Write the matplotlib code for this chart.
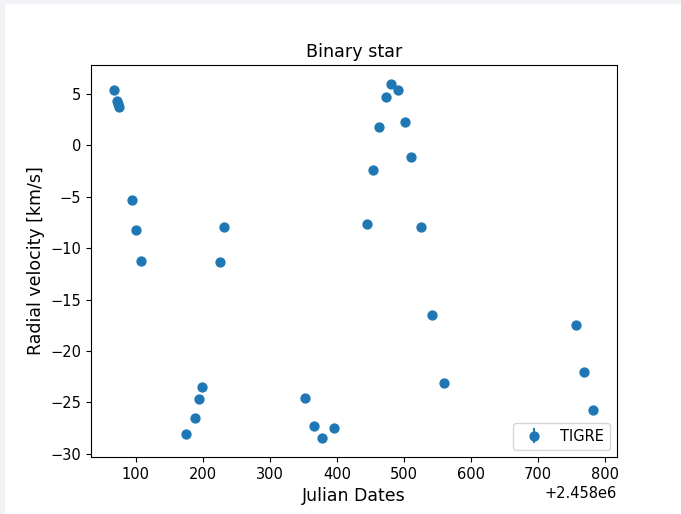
import matplotlib
matplotlib.use("Agg")
import matplotlib.pyplot as plt
import matplotlib.patches as mpatches
import numpy as np

# Julian dates minus 2.458e6, radial velocities in km/s
jd = [67, 71.6, 73, 74.6, 94, 100, 107.5,
      174.6, 188, 194, 198.5, 225, 231,
      352, 366, 377.6, 395.5,
      444.8, 453.7, 462.7, 473, 480.6, 491, 501.5, 510, 525, 541.8, 559.7,
      756.7, 768.7, 782]
rv = [5.34, 4.3, 4.0, 3.7, -5.34, -8.25, -11.26,
      -28.06, -26.5, -24.66, -23.5, -11.36, -7.96,
      -24.56, -27.28, -28.45, -27.48,
      -7.67, -2.43, 1.75, 4.66, 5.92, 5.34, 2.23, -1.17, -7.96, -16.5, -23.1,
      -17.48, -22.04, -25.7]
rv_err = [0.1] * len(rv)

offset = 2.458e6

fig = plt.figure(figsize=(6.81, 5.14), dpi=100)
fig.patch.set_facecolor("#f2f3f7")
# white canvas inside the light screenshot border
fig.patches.append(mpatches.Rectangle((5 / 681, 0), 1, 1 - 4 / 514,
                                      transform=fig.transFigure,
                                      facecolor="white", edgecolor="none", zorder=-10))

ax = fig.add_axes([91 / 681, 57 / 514, 526 / 681, 392 / 514])
ax.errorbar(np.array(jd) + offset, rv, yerr=rv_err, fmt="o", ms=6.4,
            color="#1f77b4", label="TIGRE")

ax.set_xlim(33 + offset, 818 + offset)
ax.set_ylim(-30.3, 7.8)
ax.set_xticks(np.arange(100, 801, 100) + offset)
ax.tick_params(labelsize=10.5)

ax.set_title("Binary star", fontsize=12.6)
ax.set_xlabel("Julian Dates", fontsize=12.5)
ax.set_ylabel("Radial velocity [km/s]", fontsize=12.5)
ax.xaxis.get_offset_text().set_fontsize(10.5)
ax.legend(loc="lower right", fontsize=10.5)

fig.savefig("out.png", dpi=100, facecolor=fig.get_facecolor())
